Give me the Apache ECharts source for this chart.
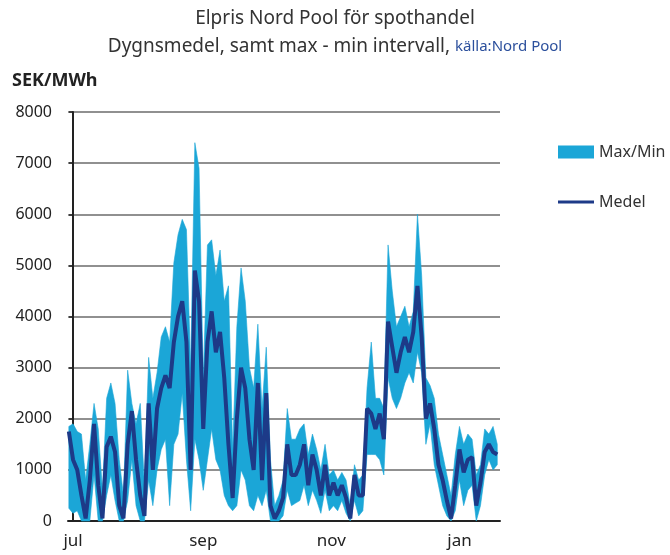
<!DOCTYPE html>
<html>
<head>
<meta charset="utf-8">
<script src="https://cdn.jsdelivr.net/npm/echarts@6/dist/echarts.min.js"></script>
<style>
  html, body { margin: 0; padding: 0; background: #fff; }
  #chart { width: 670px; height: 555px; }
</style>
</head>
<body>
<div id="chart"></div>
<script>
// every second day, first sample two days before 1 July
const startDay = -2
const stepDays = 2

const medel = [
  1750, 1200, 1000, 500, 50, 800, 1900, 700, 50, 1450,
  1650, 1350, 300, 50, 1500, 2150, 1200, 500, 100, 2300,
  1000, 2200, 2600, 2850, 2600, 3500, 4000, 4300, 3500, 1000,
  4900, 4300, 1800, 3500, 4100, 3300, 3700, 2800, 1500, 450,
  2000, 3000, 2600, 1600, 1000, 2700, 800, 2500, 300, 50,
  200, 450, 1500, 900, 900, 1100, 1500, 700, 1300, 1000,
  500, 1100, 500, 750, 500, 700, 450, 50, 900, 500,
  500, 2200, 2100, 1800, 2100, 1600, 3900, 3400, 2900, 3300,
  3600, 3300, 3700, 4600, 3600, 2000, 2300, 1800, 1100, 800,
  400, 50, 700, 1400, 950, 1200, 1250, 300, 750, 1350,
  1500, 1350, 1300
]

const maxVals = [
  1850, 1900, 1750, 1700, 800, 1500, 2300, 1800, 600, 2400,
  2700, 2300, 1200, 500, 2950, 2300, 1900, 2300, 700, 3200,
  2400, 2900, 3600, 3800, 3500, 5050, 5600, 5900, 5700, 3000,
  7400, 6900, 2800, 5400, 5500, 4800, 5300, 4300, 4600, 1400,
  3800, 4950, 4300, 3000, 2600, 3850, 2200, 3400, 1200, 300,
  500, 800, 2200, 1600, 1600, 1800, 1900, 1300, 1700, 1400,
  1000, 1500, 900, 1000, 800, 950, 800, 300, 1100, 800,
  900, 2600, 3500, 2400, 2400, 2200, 5400, 4500, 3800, 4000,
  4200, 3800, 4100, 6000, 4800, 2800, 2650, 2400, 1700, 1300,
  900, 500, 1300, 1850, 1500, 1700, 1600, 900, 1100, 1800,
  1700, 1850, 1500
]

const minVals = [
  250, 150, 200, 0, 0, 0, 900, 0, 0, 500,
  900, 400, 0, 0, 400, 1200, 300, 0, 0, 800,
  300, 1000, 1400, 1600, 300, 1500, 1700, 2500, 1200, 200,
  1600, 1200, 600, 1200, 1800, 1200, 1000, 500, 300, 200,
  300, 1000, 800, 300, 200, 500, 300, 600, 0, 0,
  0, 100, 600, 300, 350, 400, 700, 300, 600, 400,
  150, 600, 200, 300, 200, 400, 150, 0, 400, 100,
  200, 1300, 1300, 1300, 1200, 900, 2800, 2400, 2200, 2400,
  2700, 2900, 2700, 3300, 2900, 1500, 1900, 1100, 700, 300,
  100, 0, 200, 800, 300, 600, 700, 0, 300, 900,
  1200, 1000, 1100
]

const monthLabels = ['jul', 'sep', 'nov', 'jan']
const monthDays = [0, 62, 123, 184]

const chart = echarts.init(document.getElementById('chart'))

const day = (i) => startDay + i * stepDays
const bandData = maxVals.map((v, i) => [day(i), minVals[i], v])
const medelData = medel.map((v, i) => [day(i), v])

const bandColor = '#1ba6d7'
const lineColor = '#1d3a88'
const font = 'Noto Sans'

// whole min-max band as one polygon, drawn at the first data item
function renderBand(params, api) {
  if (params.dataIndex !== 0) return null
  const top = bandData.map((d) => api.coord([d[0], d[2]]))
  const bottom = bandData.map((d) => api.coord([d[0], d[1]])).reverse()
  return {
    type: 'polygon',
    shape: { points: top.concat(bottom) },
    style: { fill: bandColor, stroke: bandColor, lineWidth: 0.6 },
  }
}

chart.setOption({
  animation: false,
  textStyle: { fontFamily: font },
  title: {
    text: 'Elpris Nord Pool för spothandel',
    left: 'center',
    top: 4,
    itemGap: 9,
    textStyle: { fontFamily: font, fontSize: 19, fontWeight: 'normal', color: '#333' },
    subtext: '{a|Dygnsmedel, samt max - min intervall, }{b|källa:Nord Pool}',
    subtextStyle: {
      rich: {
        a: { fontFamily: font, fontSize: 19, color: '#333' },
        b: { fontFamily: font, fontSize: 15, color: '#2b4f9c' },
      },
    },
  },
  graphic: [
    {
      type: 'text',
      left: 12,
      top: 72,
      style: { text: 'SEK/MWh', font: 'bold 18px "Noto Sans"', fill: '#222' },
    },
  ],
  legend: {
    orient: 'vertical',
    left: 553,
    top: 139,
    itemGap: 34,
    itemWidth: 36,
    itemHeight: 13,
    textStyle: { fontSize: 16, color: '#333' },
    data: [
      { name: 'Max/Min', icon: 'rect' },
      { name: 'Medel', icon: 'path://M0,0 L40,0 L40,3.4 L0,3.4 Z' },
    ],
  },
  grid: { left: 68, right: 170, top: 112, bottom: 34, containLabel: false },
  xAxis: {
    type: 'value',
    min: -2.4,
    max: 203.3,
    splitLine: { show: false },
    axisLine: { show: true, onZero: false, lineStyle: { color: '#222', width: 2 } },
    axisTick: { show: false },
    axisLabel: {
      customValues: monthDays,
      formatter: (v) => monthLabels[monthDays.indexOf(v)] || '',
      fontSize: 17,
      color: '#222',
      margin: 12,
    },
  },
  yAxis: {
    type: 'value',
    min: 0,
    max: 8000,
    interval: 1000,
    axisLine: { show: true, lineStyle: { color: '#222', width: 2 } },
    axisTick: { show: true, length: 4, lineStyle: { color: '#222', width: 1.5 } },
    axisLabel: { fontSize: 16, color: '#222', margin: 16, formatter: (v) => String(v) },
    splitLine: { lineStyle: { color: '#6b6b6b', width: 1.5 } },
  },
  series: [
    {
      name: 'Max/Min',
      type: 'custom',
      renderItem: renderBand,
      data: bandData,
      encode: { x: 0, y: [1, 2] },
      itemStyle: { color: bandColor },
      silent: true,
    },
    {
      name: 'Medel',
      type: 'line',
      data: medelData,
      symbol: 'none',
      itemStyle: { color: lineColor },
      lineStyle: { width: 4, color: lineColor },
    },
  ],
})
</script>
</body>
</html>
